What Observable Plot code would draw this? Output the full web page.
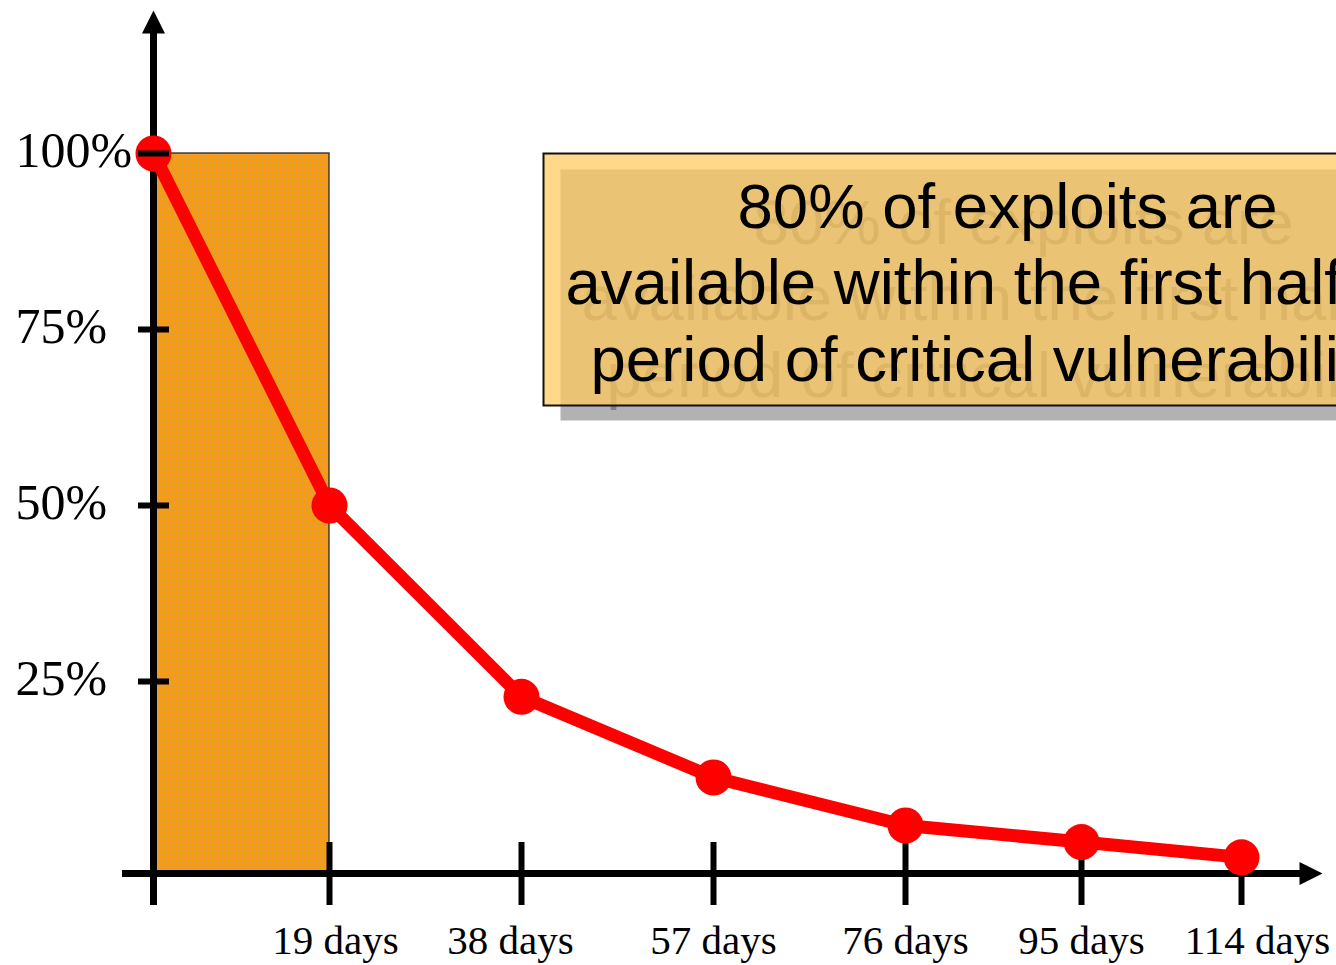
<!DOCTYPE html>
<html>
<head>
<meta charset="utf-8">
<script src="https://cdn.jsdelivr.net/npm/d3@7"></script>
<script src="https://cdn.jsdelivr.net/npm/@observablehq/plot@0.6"></script>
<style>
  html, body { margin: 0; padding: 0; background: #fff; overflow: hidden; }
  #chart svg { display: block; overflow: hidden; }
</style>
</head>
<body>
<div id="chart"></div>
<script>
// ---- data ----
const days = [0, 19, 38, 57, 76, 95, 114];
const share = [100, 50, 23, 12.5, 6.25, 4.1, 2.1];          // % of exploits still to appear
const xTickDays = [0, 19, 38, 57, 76, 95, 114];
const xTickLabels = ["", "19 days", "38 days", "57 days", "76 days", "95 days", "114 days"];
const yTicks = [25, 50, 75, 100];
const yTickLabels = ["25%", "50%", "75%", "100%"];
const highlight = [{from: 0, to: 19, low: 0, high: 100}];
const noteLines = ["80% of exploits are", "available within the first half", "period of critical vulnerability"];

// ---- layout (not data) ----
const W = 1336, H = 965;
const M = {top: 10, right: 14, bottom: 60, left: 122};
const X_RANGE = [153, 329, 521, 713, 905, 1081, 1241];   // hand-placed tick spacing of the original slide
const Y_DOMAIN = [0, 25, 100], Y_RANGE = [873, 681, 153];
const LABEL_DX = [0, 6, -11, 0, 0, 0, 16];
const NOTE_POS = [[737, 227], [565, 303], [590, 380]];
const SERIF = "'Liberation Serif', 'Times New Roman', serif";
const SANS = "'Liberation Sans', Arial, sans-serif";

const points = days.map((d, i) => ({days: d, share: share[i]}));

// arrow head with its tip at the origin, pointing up
const arrowHead = {
  draw(ctx) {
    ctx.moveTo(0, 0);
    ctx.lineTo(-11.5, 23);
    ctx.lineTo(11.5, 23);
    ctx.closePath();
  }
};

const noteMarks = (color, off) => noteLines.map((t, i) => Plot.text([t], {
  text: d => d,
  frameAnchor: "top-left",
  textAnchor: "start",
  lineAnchor: "bottom",
  dx: NOTE_POS[i][0] - M.left + off,
  dy: NOTE_POS[i][1] - M.top + off,
  fontSize: 63.5,
  fontFamily: SANS,
  fill: color
}));

const xLabelMarks = xTickLabels.map((lab, i) => Plot.text([xTickDays[i]], {
  x: d => d,
  text: () => lab,
  frameAnchor: "bottom",
  dy: 48,
  dx: LABEL_DX[i],
  fontSize: 41,
  fontFamily: SERIF,
  fill: "black"
}));

const chart = Plot.plot({
  width: W,
  height: H,
  marginTop: M.top,
  marginRight: M.right,
  marginBottom: M.bottom,
  marginLeft: M.left,
  style: {background: "white", overflow: "hidden"},
  x: {type: "linear", domain: xTickDays, range: X_RANGE, axis: null},
  y: {type: "linear", domain: Y_DOMAIN, range: Y_RANGE, axis: null},
  marks: [
    // highlighted first period
    Plot.rect(highlight, {x1: "from", x2: "to", y1: "low", y2: "high",
      fill: "url(#orangeDots)", stroke: "#262626", strokeWidth: 1.3}),

    // annotation box: shadow, text shadow, translucent box, text
    Plot.frame({fill: "#b2b2b2", stroke: "none",
      insetLeft: 560 - M.left, insetTop: 169 - M.top, insetBottom: (H - M.bottom) - 420, insetRight: -60}),
    ...noteMarks("#808080", 16),
    Plot.frame({fill: "#ffca5c", fillOpacity: 0.72, stroke: "#111", strokeWidth: 2,
      insetLeft: 543 - M.left, insetTop: 153 - M.top, insetBottom: (H - M.bottom) - 405, insetRight: -60}),
    ...noteMarks("black", 0),

    // axes
    Plot.ruleX([0], {x: d => d, stroke: "black", strokeWidth: 7, insetTop: 18}),
    Plot.ruleY([0], {y: d => d, stroke: "black", strokeWidth: 7, insetRight: 18}),
    Plot.dot([0], {x: d => d, frameAnchor: "top", symbol: arrowHead, fill: "black", stroke: "none"}),
    Plot.dot([0], {y: d => d, frameAnchor: "right", symbol: arrowHead, rotate: 90, fill: "black", stroke: "none"}),
    Plot.ruleX(xTickDays, {x: d => d, y1: 0, y2: 0, insetTop: -31, insetBottom: -32, stroke: "black", strokeWidth: 6}),

    // series
    Plot.line(points, {x: "days", y: "share", stroke: "#ff0000", strokeWidth: 13}),
    Plot.dot(points, {x: "days", y: "share", r: 18, fill: "#ff0000", stroke: "none"}),

    // y ticks on top
    Plot.ruleY(yTicks, {y: d => d, x1: 0, x2: 0, insetLeft: -15, insetRight: -16, stroke: "black", strokeWidth: 6}),

    // labels
    Plot.text(yTicks, {y: d => d, text: (d, i) => yTickLabels[i], frameAnchor: "left", textAnchor: "start",
      dx: 15 - M.left, dy: -3, fontSize: 50, fontFamily: SERIF, fill: "black"}),
    ...xLabelMarks
  ]
});

// dotted orange texture
const svg = d3.select(chart);
const defs = svg.insert("defs", ":first-child");
const pat = defs.append("pattern").attr("id", "orangeDots")
  .attr("patternUnits", "userSpaceOnUse").attr("width", 4).attr("height", 4);
pat.append("rect").attr("width", 4).attr("height", 4).attr("fill", "#f99b0a");
pat.append("circle").attr("cx", 2).attr("cy", 2).attr("r", 1).attr("fill", "#c8a077");

document.getElementById("chart").appendChild(chart);
</script>
</body>
</html>
